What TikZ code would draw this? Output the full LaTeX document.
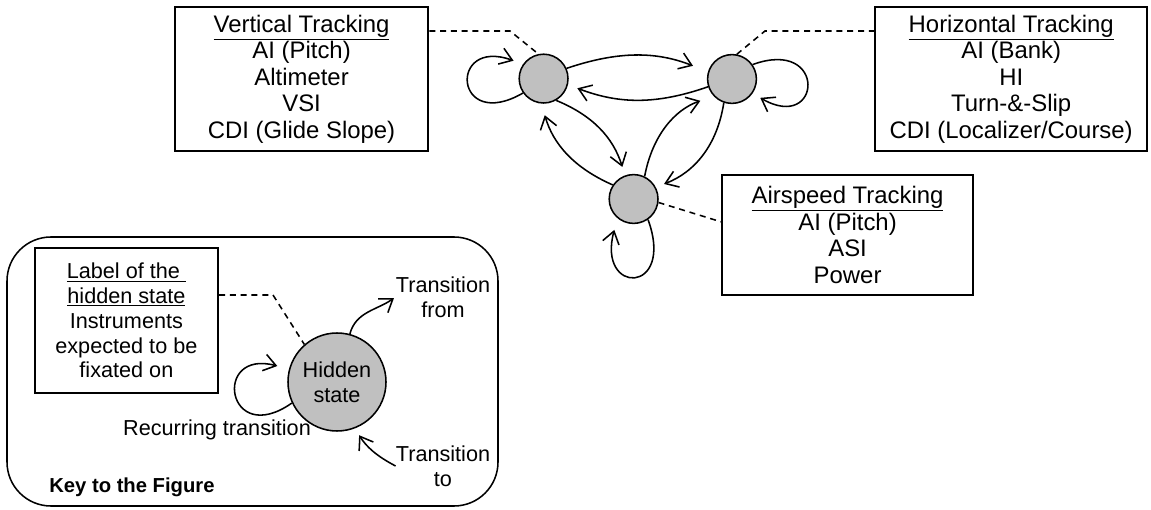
\documentclass[tikz,border=0pt]{standalone}
\usepackage{fontspec}
\setmainfont{Liberation Sans}
\usetikzlibrary{arrows.meta}
\definecolor{stategray}{RGB}{192,192,192}

\begin{document}
\begin{tikzpicture}[
  infobox/.style={draw, line width=1.5pt, align=center, inner sep=0pt, font=\fontsize{17}{18.9}\selectfont},
  state/.style={circle, draw, fill=stategray, line width=1.1pt, minimum size=1.22cm, inner sep=0pt},
  trans/.style={-{Straight Barb[length=0.3cm, width=0.42cm]}, line width=1.1pt},
  link/.style={dash pattern=on 0.15cm off 0.12cm, line width=1.1pt},
  txt/.style={align=center, inner sep=0pt, font=\fontsize{15.4}{17.6}\selectfont}
]
\useasboundingbox (0,0) rectangle (28.775,12.725);

% Hidden states
\node[state] (vs) at (13.59, 10.76) {};
\node[state] (hs) at (18.3, 10.75) {};
\node[state] (as) at (15.84, 7.75) {};

% Instruments of each state
\node[infobox, minimum width=6.33cm, minimum height=3.6cm] (vbox) at (7.54, 10.75)
  {\underline{Vertical Tracking}\\AI (Pitch)\\Altimeter\\VSI\\CDI (Glide Slope)};
\node[infobox, minimum width=6.8cm, minimum height=3.6cm] (hbox) at (25.28, 10.75)
  {\underline{Horizontal Tracking}\\AI (Bank)\\HI\\Turn-\&-Slip\\CDI (Localizer/Course)};
\node[infobox, minimum width=6.28cm, minimum height=3.0cm] (abox) at (21.19, 6.85)
  {\underline{Airspeed Tracking}\\AI (Pitch)\\ASI\\Power};

% Dashed links
\coordinate (vbend) at (12.75, 11.95);
\draw[link] (vbox.east |- vbend) -- (vbend) -- (vs.102);
\coordinate (hbend) at (19.125, 11.95);
\draw[link] (hs.79) -- (hbend) -- (hbox.west |- hbend);
\draw[link] (as.-8) -- ([yshift=0.33cm]abox.west);

% Transitions
\draw[trans, shorten >=0.4cm] (vs.24) to[bend left=20] (hs.163);
\draw[trans, shorten >=0.25cm] (hs.198) to[bend left=20] (vs.-14);
\draw[trans, shorten >=0.22cm] (vs.-60) to[bend left=25] (as.110);
\draw[trans, shorten >=0.3cm] (as.146) to[bend left=25] (vs.-95);
\draw[trans, shorten >=0.35cm] (as.64) to[bend left=30] (hs.223);
\draw[trans, shorten >=0.22cm] (hs.251) to[bend left=30] (as.28);

% Recurring transitions
\draw[trans, shorten >=0.25cm] (vs.215) .. controls +(210:2.0) and +(160:2.0) .. (vs.145);
\draw[trans, shorten >=0.22cm] (hs.35) .. controls +(20:2.0) and +(-30:2.0) .. (hs.-35);
\draw[trans, shorten >=0.3cm] (as.-55) .. controls +(-70:2.0) and +(-105:2.0) .. (as.-130);

% Key to the figure
\draw[line width=1.1pt, rounded corners=1.1cm] (0.175, 0.075) rectangle (12.45, 6.8);
\node[state, minimum size=2.45cm, txt] (hid) at (8.425, 3.175) {Hidden\\state};
\node[infobox, txt, minimum width=4.58cm, minimum height=3.63cm] (keybox) at (3.16, 4.71)
  {\underline{Label of the\ }\\\underline{hidden state}\\Instruments\\expected to be\\fixated on};
\coordinate (keybend) at (6.825, 5.35);
\draw[link] (keybox.east |- keybend) -- (keybend) -- (hid.131);
\node[txt] (tfrom) at (11.075, 5.3) {Transition\\from};
\node[txt] (tto) at (11.075, 1.075) {Transition\\to};
\node[txt] (rec) at (5.425, 1.975) {Recurring transition};
\node[txt, font=\fontsize{14.4}{17}\selectfont\bfseries, anchor=west] (keytitle) at (1.225, 0.55) {Key to the Figure};
\draw[trans, shorten >=0.05cm] (hid.75) to[out=75, in=215] (tfrom.west);
\draw[trans, shorten >=0.2cm] (tto.west) to[bend left=15] (hid.-69);
\draw[trans, shorten >=0.3cm] (hid.205) .. controls +(215:2.0) and +(165:2.0) .. (hid.165);

\end{tikzpicture}
\end{document}
